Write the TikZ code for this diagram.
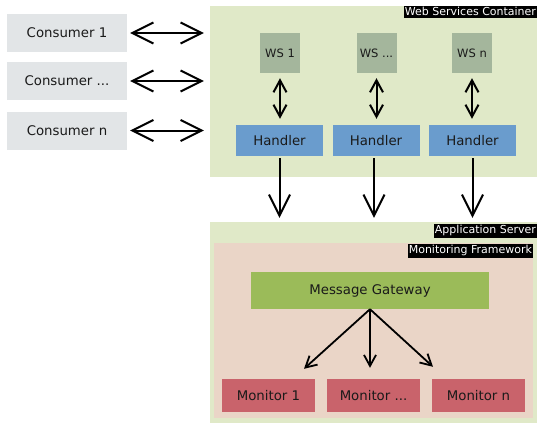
\documentclass[tikz,border=0pt]{standalone}
\usepackage{fontspec}
\setmainfont{DejaVu Sans}
\usetikzlibrary{arrows.meta,calc}
\definecolor{consumerc}{HTML}{E2E5E7}
\definecolor{containerc}{HTML}{E0E9C8}
\definecolor{wsc}{HTML}{A4B69C}
\definecolor{handlerc}{HTML}{6A9CCD}
\definecolor{mfc}{HTML}{EAD5C7}
\definecolor{gwc}{HTML}{9BBB59}
\definecolor{monc}{HTML}{C9636B}
\definecolor{txtc}{HTML}{1A1A1A}
\begin{document}
\begin{tikzpicture}[x=1pt,y=-1pt,
  box/.style={rectangle,inner sep=0pt,draw=none,text=txtc,font=\fontsize{13.3}{15}\selectfont},
  cons/.style={box,fill=consumerc,minimum width=120pt,minimum height=38pt},
  wsbox/.style={box,fill=wsc,minimum width=40pt,minimum height=40pt,font=\fontsize{11.5}{13}\selectfont},
  hand/.style={box,fill=handlerc,minimum width=87pt,minimum height=31pt},
  mon/.style={box,fill=monc,minimum width=93pt,minimum height=33pt},
  lbl/.style={rectangle,fill=black,text=white,inner xsep=1pt,inner ysep=1.5pt,font=\fontsize{11}{13}\selectfont},
  bigdbl/.style={line width=2pt,{Straight Barb[length=21pt,width=21pt]}-{Straight Barb[length=21pt,width=21pt]}},
  smalldbl/.style={line width=2pt,{Straight Barb[length=12pt,width=13pt]}-{Straight Barb[length=12pt,width=13pt]}},
  bigarr/.style={line width=2pt,-{Straight Barb[length=21pt,width=21pt]}},
  smallarr/.style={line width=1.8pt,-{Straight Barb[length=11pt,width=12pt]}}
]
\fill[white] (0,0) rectangle (539,423);
\useasboundingbox (0,0) rectangle (539,423);

% containers
\node[box,fill=containerc,minimum width=327pt,minimum height=171pt] (wscont) at (373.5,91.5) {};
\node[lbl,anchor=north east] (wslbl) at (wscont.north east) {Web Services Container};
\node[box,fill=containerc,minimum width=327pt,minimum height=201pt] (app) at (373.5,322.5) {};
\node[lbl,anchor=north east] (applbl) at ($(app.north east)+(0,2)$) {Application Server};
\node[box,fill=mfc,minimum width=319pt,minimum height=175pt] (mf) at (373.5,330.5) {};
\node[lbl,anchor=north east] (mflbl) at ($(mf.north east)+(0,1)$) {Monitoring Framework};

% consumers
\node[cons] (c1) at (67,33) {Consumer 1};
\node[cons] (c2) at (67,81) {Consumer ...};
\node[cons] (c3) at (67,130.5) {Consumer n};

% web services
\node[wsbox] (ws1) at (280,53) {WS 1};
\node[wsbox] (ws2) at (376.5,53) {WS ...};
\node[wsbox] (ws3) at (472,53) {WS n};

% handlers
\node[hand] (h1) at (279.5,140.5) {Handler};
\node[hand] (h2) at (376,140.5) {Handler};
\node[hand] (h3) at (472.5,140.5) {Handler};

% gateway and monitors
\node[box,fill=gwc,minimum width=238pt,minimum height=37pt] (gw) at (370,290.5) {Message Gateway};
\node[mon] (m1) at (268.5,395.5) {Monitor 1};
\node[mon] (m2) at (373.5,395.5) {Monitor ...};
\node[mon] (m3) at (478.5,395.5) {Monitor n};

% consumer arrows
\foreach \c in {c1,c2,c3}
  \draw[bigdbl,shorten <=3pt,shorten >=6pt] (\c.east) -- (\c.east -| wscont.west);

% ws <-> handler
\foreach \w/\h in {ws1/h1,ws2/h2,ws3/h3}
  \draw[smalldbl,shorten <=5pt,shorten >=6pt] (\w.south) -- (\w.south |- \h.north);

% handler -> app server
\draw[bigarr,shorten <=2pt,shorten >=4pt] (h1.south) -- (h1.south |- app.north);
\draw[bigarr,shorten <=2pt,shorten >=4pt] ($(h2.south)+(-2,0)$) -- ($(h2.south |- app.north)+(-2,0)$);
\draw[bigarr,shorten <=2pt,shorten >=4pt] (h3.south) -- (h3.south |- app.north);

% gateway -> monitors
\coordinate (t1) at ($(m1.north)+(35.5,-10)$);
\coordinate (t2) at ($(m2.north)+(-3.5,-11)$);
\coordinate (t3) at ($(m3.north)+(-45.5,-12)$);
\draw[smallarr] (gw.south) -- (t1);
\draw[smallarr] (gw.south) -- (t2);
\draw[smallarr] (gw.south) -- (t3);
\end{tikzpicture}
\end{document}
